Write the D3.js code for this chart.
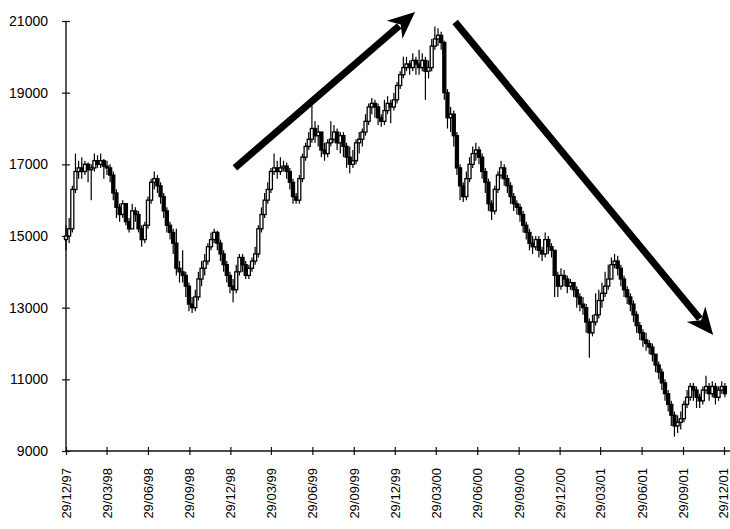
<!DOCTYPE html>
<html>
<head>
<meta charset="utf-8">
<script src="https://cdn.jsdelivr.net/npm/d3@7"></script>
<style>
  body { margin: 0; background: #fff; }
  svg text { font-family: "Liberation Sans", Arial, sans-serif; }
</style>
</head>
<body>
<div id="main"></div>
<script>
const ctx = {
    w: 730,
    h: 529,
};

// weekly closes, starting 29/12/97
const closes = [
    15000, 15200, 16300, 16800, 16900, 16800, 17000, 16850, 16900, 17100, 17000, 17100, 16950,
    16900, 16700, 16200, 15800, 15600, 15900, 15400, 15200, 15700, 15600, 15200, 14900, 15300,
    16000, 16500, 16600, 16400, 16100, 15700, 15300, 15100, 14800, 14100, 14000, 13900, 13600,
    13100, 13000, 13300, 13800, 14100, 14300, 14700, 14900, 15100, 14800, 14500, 14200, 13900,
    13600, 13500, 14000, 14400, 14200, 13900, 14100, 14300, 14500, 15200, 15600, 16000, 16300,
    16800, 16900, 16800, 16900, 16950, 16800, 16500, 16100, 16000, 16600, 17200, 17500, 17700,
    18000, 17800, 17900, 17400, 17300, 17600, 17700, 17900, 17600, 17800, 17500, 17200, 17000,
    17100, 17600, 17700, 17900, 18200, 18600, 18700, 18600, 18300, 18200, 18500, 18700, 18600,
    18800, 19200, 19500, 19700, 19800, 19700, 19900, 19800, 19700, 19900, 19600, 19700, 20300,
    20500, 20600, 20400, 19000, 18300, 18400, 17800, 16900, 16400, 16100, 16600, 17000, 17300,
    17400, 17200, 16800, 16500, 15900, 15700, 16300, 16700, 16900, 16600, 16400, 16100, 15900,
    15800, 15600, 15300, 15100, 14800, 14700, 14900, 14600, 14500, 14900, 14700, 14600, 13900,
    13600, 13900, 13800, 13600, 13700, 13500, 13300, 13100, 13000, 12600, 12300, 12600, 12800,
    13200, 13400, 13600, 13800, 14200, 14300, 14100, 13800, 13500, 13300, 13100, 12800, 12500,
    12300, 12100, 12000, 11900, 11700, 11400, 11200, 10900, 10600, 10300, 10000, 9700, 9800,
    9900, 10300, 10500, 10800, 10700, 10500, 10400, 10700, 10800, 10600, 10800, 10500, 10700,
    10800, 10600
];
const highs = [
    15300, 15500, 16400, 17300, 17100, 17200, 17100, 17050, 17000, 17300, 17250, 17300, 17150,
    17100, 17000, 16800, 16300, 15900, 16000, 15900, 15500, 15900, 15800, 15700, 15300, 15400,
    16100, 16600, 16800, 16700, 16500, 16200, 15800, 15400, 15200, 15200, 14300, 14600, 14000,
    13700, 13300, 13500, 14000, 14300, 14500, 14800, 15100, 15200, 15150, 14900, 14600, 14300,
    14000, 13800, 14200, 14500, 14500, 14300, 14200, 14400, 14700, 15300, 15800, 16200, 16500,
    16900, 17300, 17100, 17200, 17100, 17050, 16900, 16600, 16200, 16700, 17300, 17600, 17900,
    18650, 18200, 18100, 17900, 17600, 17700, 18200, 18100, 18000, 17900, 17900, 17600, 17500,
    17400, 17700, 17900, 18000, 18400, 18700, 18850, 18800, 18700, 18400, 18800, 18900, 18800,
    19000, 19300, 19600, 20000, 20000, 19900, 20100, 20000, 20200, 20100, 20000, 19900, 20500,
    20850, 20800, 20700, 20450, 19100, 18600, 18500, 17900, 17000, 16500, 16800, 17200, 17500,
    17600, 17500, 17300, 16900, 16600, 16000, 16400, 16800, 17100, 17000, 16700, 16500, 16200,
    16000, 15900, 15700, 15400, 15200, 15000, 15000, 15000, 14700, 15100, 15000, 14800, 14600,
    14000, 14100, 14050, 13900, 13800, 13700, 13600, 13400, 13300, 13100, 12700, 12800, 13400,
    13500, 13700, 14000, 14200, 14400, 14500, 14450, 14200, 13900, 13600, 13400, 13200, 12900,
    12600, 12400, 12300, 12100, 12000, 11700, 11500, 11300, 11000, 10700, 10400, 10100, 10000,
    10100, 10400, 10700, 10900, 10900, 10800, 10600, 10800, 11100, 10900, 10950, 10900, 10800,
    10950, 10900
];
const lows = [
    14600, 14800, 15100, 16200, 16600, 16600, 16700, 16500, 16000, 16800, 16900, 16900, 16600,
    16700, 16500, 16000, 15500, 15400, 15500, 15300, 15100, 15200, 15400, 15100, 14700, 14800,
    15200, 15900, 16300, 16200, 15900, 15500, 15100, 14900, 14500, 13900, 13700, 13700, 13300,
    12900, 12850, 12900, 13200, 13600, 13900, 14200, 14600, 14800, 14600, 14300, 14000, 13700,
    13400, 13150, 13400, 13900, 14000, 13800, 13800, 14000, 14200, 14400, 15100, 15500, 15900,
    16200, 16700, 16600, 16700, 16800, 16600, 16300, 15900, 15900, 15900, 16500, 17100, 17400,
    17600, 17600, 17500, 17200, 17100, 17200, 17500, 17600, 17400, 17300, 17200, 16900, 16750,
    16900, 17000, 17300, 17500, 17800, 18100, 18400, 18300, 18100, 18050, 18100, 18400, 18150,
    18500, 18700, 19100, 19400, 19600, 19500, 19600, 19500, 19500, 19600, 18800, 19400, 19600,
    20200, 20300, 20200, 18800, 18000, 17900, 17500, 16700, 16000, 15950, 16000, 16500, 16900,
    17100, 17000, 16600, 16200, 15700, 15450, 15600, 16200, 16600, 16400, 16200, 15900, 15700,
    15600, 15400, 15100, 14900, 14600, 14500, 14600, 14400, 14300, 14400, 14500, 14400, 13300,
    13300, 13500, 13600, 13400, 13500, 13300, 13000, 12900, 12800, 12300, 11600, 12200, 12500,
    12700, 13000, 13300, 13500, 13800, 14100, 13900, 13600, 13300, 13100, 12900, 12600, 12300,
    12100, 11900, 11800, 11700, 11500, 11200, 11000, 10700, 10400, 10100, 9700, 9400, 9500,
    9600, 9800, 10200, 10400, 10400, 10200, 10200, 10300, 10600, 10400, 10500, 10300, 10400,
    10600, 10500
];
const firstOpen = 14900;

const tickLabels = [
    "29/12/97", "29/03/98", "29/06/98", "29/09/98", "29/12/98", "29/03/99", "29/06/99",
    "29/09/99", "29/12/99", "29/03/00", "29/06/00", "29/09/00", "29/12/00", "29/03/01",
    "29/06/01", "29/09/01", "29/12/01"
];
const yTicks = [9000, 11000, 13000, 15000, 17000, 19000, 21000];

// trend arrows: [start date, start value, end date, end value]
const arrows = [
    ["08/01/99", 16900, "12/02/00", 21250],
    ["11/05/00", 20970, "05/12/01", 12240],
];

function createChart(svgEl) {
    const left = 66, right = 724, top = 21, bottom = 451;
    const parse = d3.timeParse("%d/%m/%y");
    const start = parse(tickLabels[0]);

    const x = d3.scaleTime()
        .domain([start, parse(tickLabels[tickLabels.length - 1])])
        .range([left, right]);
    const y = d3.scaleLinear()
        .domain([9000, 21000])
        .range([bottom, top]);

    const bars = closes.map((c, i) => ({
        date: d3.timeWeek.offset(start, i),
        open: i === 0 ? firstOpen : closes[i - 1],
        close: c,
        high: highs[i],
        low: lows[i],
    }));

    // y axis, cross-shaped ticks
    const gy = svgEl.append("g")
        .attr("transform", `translate(${left},0)`)
        .call(d3.axisLeft(y).tickValues(yTicks).tickSize(4).tickPadding(14).tickFormat(d3.format("d")));
    gy.select(".domain").remove();
    gy.selectAll(".tick line").attr("x2", 4).attr("x1", -4).attr("stroke", "#111").attr("stroke-width", 1.2);
    gy.selectAll(".tick text")
        .attr("font-size", 14)
        .attr("fill", "#000")
        .attr("font-family", "Liberation Sans, Arial, sans-serif");
    svgEl.append("line")
        .attr("x1", left).attr("x2", left)
        .attr("y1", top).attr("y2", bottom)
        .attr("stroke", "#111").attr("stroke-width", 1.4);

    // x axis
    const gx = svgEl.append("g")
        .attr("transform", `translate(0,${bottom})`)
        .call(d3.axisBottom(x).tickValues(tickLabels.map(parse)).tickSize(4).tickFormat(d3.timeFormat("%d/%m/%y")));
    gx.select(".domain").remove();
    gx.selectAll(".tick line").attr("y1", -4).attr("y2", 4).attr("stroke", "#111").attr("stroke-width", 1.2);
    gx.selectAll(".tick text")
        .attr("font-size", 13)
        .attr("fill", "#000")
        .attr("font-family", "Liberation Sans, Arial, sans-serif")
        .attr("text-anchor", "end")
        .attr("transform", "rotate(-90)")
        .attr("x", -17)
        .attr("y", (d, i) => i === tickLabels.length - 1 ? -1.5 : 0)
        .attr("dy", "0.35em");
    svgEl.append("line")
        .attr("x1", left).attr("x2", ctx.w)
        .attr("y1", bottom).attr("y2", bottom)
        .attr("stroke", "#111").attr("stroke-width", 1.4);

    // candles
    const bw = 3;
    const g = svgEl.append("g");
    g.selectAll("line.wick")
        .data(bars)
        .enter().append("line")
        .attr("class", "wick")
        .attr("x1", d => x(d.date)).attr("x2", d => x(d.date))
        .attr("y1", d => y(d.high)).attr("y2", d => y(d.low))
        .attr("stroke", "#000").attr("stroke-width", 1.2);
    g.selectAll("rect.body")
        .data(bars)
        .enter().append("rect")
        .attr("class", "body")
        .attr("x", d => x(d.date) - bw / 2)
        .attr("width", bw)
        .attr("y", d => y(Math.max(d.open, d.close)))
        .attr("height", d => Math.max(1.5, Math.abs(y(d.open) - y(d.close))))
        .attr("fill", d => d.close > d.open ? "#fff" : "#000")
        .attr("stroke", "#000").attr("stroke-width", 1.3);

    // arrows
    arrows.forEach(a => {
        const x1 = x(parse(a[0])), y1 = y(a[1]);
        const x2 = x(parse(a[2])), y2 = y(a[3]);
        const ang = Math.atan2(y2 - y1, x2 - x1);
        const headLen = 27, headW = 12;
        const bx = x2 - headLen * Math.cos(ang), by = y2 - headLen * Math.sin(ang);
        svgEl.append("line")
            .attr("x1", x1).attr("y1", y1)
            .attr("x2", bx + 6 * Math.cos(ang)).attr("y2", by + 6 * Math.sin(ang))
            .attr("stroke", "#000").attr("stroke-width", 7);
        const px = -Math.sin(ang), py = Math.cos(ang);
        svgEl.append("path")
            .attr("d", `M${x2},${y2}L${bx + px * headW},${by + py * headW}L${bx + 8 * Math.cos(ang)},${by + 8 * Math.sin(ang)}L${bx - px * headW},${by - py * headW}Z`)
            .attr("fill", "#000");
    });
}

function createViz() {
    const svgEl = d3.select("#main").append("svg")
        .attr("width", ctx.w)
        .attr("height", ctx.h);
    createChart(svgEl);
}

createViz();
</script>
</body>
</html>
